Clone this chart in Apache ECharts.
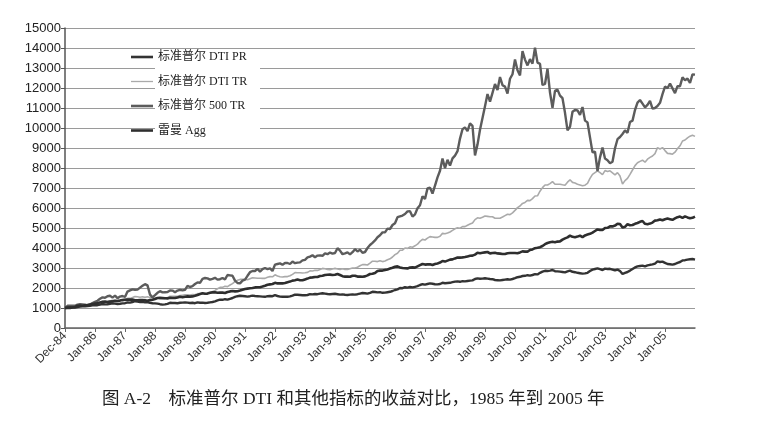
<!DOCTYPE html>
<html>
<head>
<meta charset="utf-8">
<script src="https://cdn.jsdelivr.net/npm/echarts@6/dist/echarts.min.js"></script>
<style>
html,body{margin:0;padding:0;background:#fff;}
#chart{width:782px;height:435px;}
</style>
</head>
<body>
<div id="chart"></div>
<script>
// Monthly categories Dec-84 .. Dec-05
const monthNames = ['Jan','Feb','Mar','Apr','May','Jun','Jul','Aug','Sep','Oct','Nov','Dec'];
const years = ['85','86','87','88','89','90','91','92','93','94','95','96','97','98','99','00','01','02','03','04','05'];
const categories = ['Dec-84'];
years.forEach(function (y) { monthNames.forEach(function (m) { categories.push(m + '-' + y); }); });

// Tick labels shown every 12 months (as printed on the reference)
const tickLabels = ['Dec-84','Jan-86','Jan-87','Jan-88','Jan-89','Jan-90','Jan-91','Jan-92','Jan-93','Jan-94','Jan-95','Jan-96','Jan-97','Jan-98','Jan-99','Jan-00','Jan-01','Jan-02','Jan-03','Jan-04','Jan-05'];

const seriesNames = ['标准普尔 DTI PR','标准普尔 DTI TR','标准普尔 500 TR','雷曼 Agg'];

const dtiPR = [1000,
1010,1040,1030,1020,1050,1070,1090,1080,1100,1110,1130,1150,
1140,1170,1200,1180,1190,1210,1230,1220,1200,1210,1230,1240,
1280,1270,1300,1340,1320,1300,1310,1280,1300,1260,1240,1230,
1220,1190,1170,1180,1210,1260,1250,1250,1240,1260,1270,1280,
1270,1250,1260,1240,1280,1260,1270,1250,1260,1280,1300,1330,
1380,1420,1410,1440,1420,1460,1500,1560,1590,1610,1600,1590,
1570,1590,1620,1600,1590,1580,1570,1560,1590,1600,1590,1640,
1600,1570,1560,1570,1560,1580,1620,1670,1660,1650,1640,1640,
1650,1690,1680,1700,1690,1720,1740,1720,1700,1690,1700,1710,
1690,1670,1680,1660,1650,1670,1680,1670,1690,1720,1750,1740,
1720,1760,1810,1800,1780,1790,1760,1770,1790,1810,1850,1900,
1930,2000,1990,2040,2020,2050,2030,2060,2090,2150,2190,2170,
2200,2230,2210,2190,2180,2200,2260,2240,2250,2260,2290,2320,
2330,2310,2340,2330,2350,2370,2380,2450,2480,2460,2470,2490,
2470,2450,2440,2400,2390,2380,2400,2420,2440,2420,2450,2490,
2540,2560,2600,2610,2640,2620,2650,2690,2680,2760,2820,2860,
2850,2870,2900,2840,2830,2820,2800,2780,2830,2870,2810,2790,
2760,2740,2720,2730,2760,2850,2920,2950,2980,2940,2900,2970,
2950,2960,2920,2880,2920,2850,2700,2760,2800,2870,2950,3030,
3080,3100,3120,3080,3130,3160,3180,3220,3330,3300,3320,3260,
3200,3190,3170,3200,3260,3300,3380,3390,3420,3440,3450,3420];

const dtiTR = [1000,
1020,1050,1050,1050,1080,1110,1140,1140,1170,1180,1210,1240,
1240,1280,1320,1300,1320,1350,1380,1370,1360,1380,1410,1430,
1480,1480,1520,1570,1560,1540,1560,1530,1560,1520,1510,1500,
1500,1470,1450,1470,1520,1590,1580,1590,1590,1620,1640,1660,
1660,1650,1670,1660,1720,1710,1730,1720,1740,1780,1820,1880,
1960,2030,2030,2090,2070,2150,2220,2320,2390,2430,2430,2430,
2410,2460,2510,2500,2490,2490,2480,2480,2540,2570,2560,2660,
2600,2560,2550,2570,2570,2610,2680,2770,2760,2760,2750,2760,
2780,2860,2850,2890,2880,2930,2980,2960,2930,2920,2950,2980,
2950,2930,2960,2930,2930,2960,3000,3000,3040,3110,3170,3170,
3150,3240,3340,3340,3320,3360,3320,3350,3410,3460,3550,3670,
3740,3890,3890,4000,3980,4060,4040,4110,4190,4330,4430,4400,
4490,4570,4550,4530,4530,4590,4730,4710,4750,4800,4880,4960,
5010,4990,5070,5070,5140,5200,5250,5420,5510,5490,5540,5600,
5580,5560,5560,5490,5490,5490,5550,5620,5690,5670,5760,5880,
6020,6100,6230,6280,6380,6370,6470,6600,6610,6840,7020,7150,
7150,7220,7320,7190,7190,7190,7160,7140,7290,7410,7280,7250,
7190,7150,7110,7140,7230,7480,7680,7770,7860,7770,7670,7870,
7820,7860,7760,7660,7770,7600,7200,7370,7480,7680,7900,8120,
8260,8330,8390,8290,8440,8530,8600,8720,9020,8950,9020,8870,
8730,8720,8690,8790,8970,9110,9350,9400,9510,9590,9640,9580];

const sp500TR = [1000,
1110,1120,1120,1110,1170,1190,1180,1170,1130,1170,1250,1310,
1360,1460,1530,1510,1590,1610,1520,1620,1490,1570,1600,1550,
1820,1880,1930,1910,1920,2020,2110,2190,2130,1670,1530,1640,
1760,1840,1780,1790,1800,1880,1870,1790,1870,1910,1880,1910,
2110,2050,2090,2200,2280,2260,2460,2500,2480,2420,2460,2510,
2420,2440,2500,2430,2650,2630,2610,2370,2250,2230,2370,2420,
2610,2790,2850,2850,2960,2820,2940,3000,2940,2980,2850,3170,
3200,3230,3160,3250,3250,3200,3320,3240,3270,3280,3380,3410,
3530,3570,3640,3540,3620,3630,3610,3730,3690,3770,3720,3750,
3990,3870,3690,3730,3780,3680,3790,3940,3830,3910,3760,3800,
4000,4150,4260,4380,4540,4640,4780,4780,4970,4950,5150,5240,
5540,5580,5620,5700,5830,5840,5570,5680,5990,6140,6590,6450,
6980,7020,6720,7120,7530,7860,8470,7990,8410,8120,8480,8620,
8840,9470,9940,10030,9840,10230,10110,8630,9170,9910,10500,11090,
11700,11320,11760,12200,11900,12550,12140,12070,11720,12460,12690,13430,
12890,12630,13850,13420,13130,13440,13220,14020,13270,13210,12150,12200,
12960,11770,11010,11860,11920,11620,11490,10760,9880,10060,10810,10900,
10880,10660,11050,10370,10280,9530,8780,8820,7850,8530,9020,8470,
8390,8240,8310,8990,9440,9550,9700,9880,9760,10300,10370,10900,
11270,11400,11220,11030,11160,11360,10970,11000,11100,11260,11690,12070,
11990,12220,11980,11740,12090,12090,12530,12390,12470,12250,12680,12670];

const lehmanAgg = [1000,
1020,1005,1030,1055,1110,1120,1115,1140,1150,1175,1200,1220,
1230,1280,1310,1320,1295,1320,1330,1360,1350,1370,1395,1410,
1420,1425,1420,1390,1385,1400,1395,1390,1360,1400,1410,1450,
1500,1510,1500,1490,1480,1510,1500,1500,1530,1560,1540,1560,
1580,1570,1580,1610,1650,1700,1740,1710,1720,1760,1780,1790,
1760,1770,1770,1750,1800,1830,1850,1830,1840,1870,1910,1950,
1970,1990,2000,2030,2040,2040,2070,2110,2160,2180,2200,2260,
2230,2240,2230,2250,2290,2320,2370,2390,2420,2390,2390,2430,
2470,2520,2530,2550,2550,2600,2610,2650,2660,2670,2650,2660,
2700,2650,2590,2570,2570,2560,2610,2610,2570,2570,2560,2580,
2630,2700,2710,2750,2850,2870,2870,2900,2930,2970,3010,3060,
3080,3030,3000,2990,2980,3020,3030,3020,3080,3140,3200,3170,
3180,3190,3150,3200,3230,3270,3350,3320,3370,3420,3430,3480,
3520,3520,3530,3550,3580,3610,3620,3670,3760,3740,3760,3780,
3800,3730,3750,3760,3730,3720,3700,3700,3740,3750,3750,3750,
3740,3780,3830,3820,3820,3900,3930,3990,4010,4040,4100,4190,
4250,4290,4310,4290,4320,4330,4420,4480,4530,4620,4560,4540,
4570,4620,4540,4630,4670,4710,4770,4850,4930,4900,4900,5000,
5010,5080,5080,5120,5210,5200,5030,5060,5190,5140,5150,5210,
5250,5310,5350,5210,5190,5220,5270,5370,5390,5430,5390,5440,
5470,5440,5410,5480,5540,5570,5510,5580,5530,5490,5510,5570];

const caption = '图 A-2    标准普尔 DTI 和其他指标的收益对比，1985 年到 2005 年';

function tickFn(idx) { return idx % 12 === 0 && idx / 12 < tickLabels.length; }

const thickIcon = 'path://M0,0 L22,0 L22,2.6 L0,2.6 Z';
const thinIcon = 'path://M0,0 L22,0 L22,1.3 L0,1.3 Z';

const chart = echarts.init(document.getElementById('chart'), null, {renderer: 'canvas'});
const option = {
  animation: false,
  backgroundColor: '#fff',
  title: {
    text: caption,
    left: 102,
    top: 391,
    padding: 0,
    textStyle: {fontSize: 17.5, fontWeight: 'normal', color: '#222', fontFamily: '"Liberation Serif","Noto Sans CJK SC",serif'}
  },
  grid: {left: 65, right: 87, top: 28, bottom: 107},
  graphic: [{
    type: 'rect', z: 5,
    shape: {x: 155, y: 55, width: 105, height: 83},
    style: {fill: '#fff'}
  }],
  legend: {
    z: 10,
    orient: 'vertical',
    left: 131,
    top: 51,
    padding: 0,
    itemWidth: 22,
    itemHeight: 14,
    itemGap: 12.5,
    data: [
      {name: seriesNames[0], icon: thickIcon},
      {name: seriesNames[1], icon: thinIcon},
      {name: seriesNames[2], icon: thickIcon},
      {name: seriesNames[3], icon: thickIcon}
    ],
    textStyle: {fontSize: 12, color: '#222', fontFamily: '"Liberation Serif","Noto Sans CJK SC",serif'}
  },
  xAxis: {
    type: 'category',
    data: categories,
    boundaryGap: false,
    axisLine: {lineStyle: {color: '#666', width: 1.5}},
    axisTick: {interval: tickFn, length: 4, lineStyle: {color: '#666'}},
    axisLabel: {
      interval: tickFn,
      rotate: 45,
      margin: 6,
      fontSize: 12,
      color: '#333',
      fontFamily: '"Liberation Sans",Arial,sans-serif',
      formatter: function (v, i) { return tickLabels[i / 12]; }
    },
    splitLine: {show: false}
  },
  yAxis: {
    type: 'value',
    min: 0, max: 15000, interval: 1000,
    axisLine: {show: true, lineStyle: {color: '#555', width: 1.5}},
    axisTick: {show: true, length: 4, lineStyle: {color: '#555'}},
    axisLabel: {fontSize: 13, color: '#222', margin: 4, fontFamily: '"Liberation Sans",Arial,sans-serif',
      formatter: function (v) { return String(v); }},
    splitLine: {lineStyle: {color: '#9a9a9a', width: 1.2}}
  },
  series: [
    {name: seriesNames[0], type: 'line', data: dtiPR, symbol: 'none', lineStyle: {color: '#333', width: 2.4}, itemStyle: {color: '#333'}, z: 3},
    {name: seriesNames[1], type: 'line', data: dtiTR, symbol: 'none', lineStyle: {color: '#aaaaaa', width: 1.6}, itemStyle: {color: '#aaaaaa'}, z: 2},
    {name: seriesNames[2], type: 'line', data: sp500TR, symbol: 'none', lineStyle: {color: '#5c5c5c', width: 2.4}, itemStyle: {color: '#5c5c5c'}, z: 2},
    {name: seriesNames[3], type: 'line', data: lehmanAgg, symbol: 'none', lineStyle: {color: '#2e2e2e', width: 2.6}, itemStyle: {color: '#2e2e2e'}, z: 3}
  ]
};
chart.setOption(option);
</script>
</body>
</html>
